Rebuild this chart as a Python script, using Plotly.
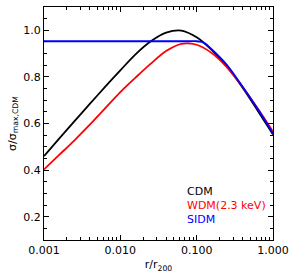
import plotly.graph_objects as go

# Data (r / r200 vs sigma / sigma_max,CDM)
r_grid = [0.001, 0.00158, 0.00251, 0.00398, 0.00631, 0.01, 0.0158, 0.0251, 0.0398,
          0.0631, 0.1, 0.158, 0.251, 0.398, 0.631, 1.0]

cdm_y = [0.460, 0.535, 0.610, 0.684, 0.757, 0.828, 0.897, 0.953, 0.990,
         0.999, 0.970, 0.915, 0.843, 0.755, 0.655, 0.553]

wdm_y = [0.403, 0.465, 0.528, 0.595, 0.665, 0.735, 0.797, 0.857, 0.911,
         0.942, 0.938, 0.902, 0.840, 0.758, 0.664, 0.565]

sidm_r = [0.001, 0.00251, 0.00631, 0.0158, 0.0398, 0.0794, 0.1, 0.112, 0.126,
          0.158, 0.251, 0.398, 0.631, 1.0]
sidm_y = [0.953, 0.953, 0.953, 0.953, 0.953, 0.953, 0.953, 0.951, 0.945,
          0.918, 0.850, 0.759, 0.662, 0.557]

x_tickvals = [0.001, 0.01, 0.1, 1.0]
x_ticktext = ["0.001", "0.010", "0.100", "1.000"]
y_tickvals = [0.2, 0.4, 0.6, 0.8, 1.0]
y_ticktext = ["0.2", "0.4", "0.6", "0.8", "1.0"]

legend_names = ["CDM", "WDM(2.3 keV)", "SIDM"]
colors = ["#000000", "#ff0000", "#0000ff"]

fig = go.Figure()
for rr, yy, c, n in [(r_grid, cdm_y, colors[0], legend_names[0]),
                     (r_grid, wdm_y, colors[1], legend_names[1]),
                     (sidm_r, sidm_y, colors[2], legend_names[2])]:
    fig.add_trace(go.Scatter(x=rr, y=yy, mode="lines", name=n,
                             line=dict(color=c, width=1.8, shape="spline", smoothing=0.9),
                             showlegend=False))

font = dict(family="DejaVu Sans", size=11, color="black")

for i, (n, c) in enumerate(zip(legend_names, colors)):
    fig.add_annotation(xref="paper", yref="paper", x=0.615, y=0.208 - i * 0.06,
                       text=n, showarrow=False, xanchor="left", yanchor="middle",
                       font=dict(family="DejaVu Sans", size=11, color=c))

fig.update_layout(
    width=295, height=275,
    margin=dict(l=44, r=17, t=6, b=35),
    paper_bgcolor="white", plot_bgcolor="white",
    font=font,
    xaxis=dict(type="log", range=[-3, 0], tickvals=x_tickvals, ticktext=x_ticktext,
               ticks="inside", ticklen=5, tickwidth=1, tickcolor="black",
               showline=True, linecolor="black", linewidth=1, mirror="allticks",
               showgrid=False, zeroline=False,
               minor=dict(ticks="inside", ticklen=3, tickwidth=1, tickcolor="black",
                          dtick="D1", showgrid=False),
               title=dict(text="r/r<sub>200</sub>", standoff=4, font=font),
               tickfont=font),
    yaxis=dict(range=[0.1, 1.1], tickvals=y_tickvals, ticktext=y_ticktext,
               ticks="inside", ticklen=5, tickwidth=1, tickcolor="black",
               showline=True, linecolor="black", linewidth=1, mirror="allticks",
               showgrid=False, zeroline=False,
               minor=dict(ticks="inside", ticklen=3, tickwidth=1, tickcolor="black",
                          tick0=0.1, dtick=0.05, showgrid=False),
               title=dict(text="σ/σ<sub>max,CDM</sub>", standoff=4, font=font),
               tickfont=font),
)

fig.write_html("out.html", config={"displayModeBar": False},
               post_script="document.body.style.margin='0';document.body.style.overflow='hidden';")
